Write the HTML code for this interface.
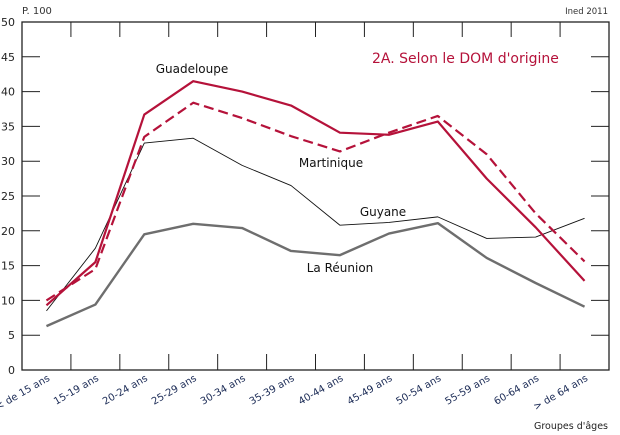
<!DOCTYPE html>
<html><head><meta charset="utf-8"><style>
html,body{margin:0;padding:0;background:#fff;}
svg{display:block;font-family:"DejaVu Sans","Liberation Sans",sans-serif;}
</style></head><body>
<svg id="chart" width="620" height="435" viewBox="0 0 620 435" xmlns="http://www.w3.org/2000/svg">
<text x="22" y="14" font-size="10" fill="#333">P. 100</text>
<text x="608" y="14" font-size="8.5" fill="#333" text-anchor="end">Ined 2011</text>
<text x="372" y="63" font-size="14" fill="#b5123a">2A. Selon le DOM d'origine</text>
<text x="608" y="429" font-size="9.5" fill="#222" text-anchor="end">Groupes d'âges</text>
<g id="axes"></g>
<g id="series"></g>
<text x="192" y="73" font-size="12" fill="#111" text-anchor="middle">Guadeloupe</text>
<text x="331" y="167" font-size="12" fill="#111" text-anchor="middle">Martinique</text>
<text x="383" y="216" font-size="12" fill="#111" text-anchor="middle">Guyane</text>
<text x="340" y="272" font-size="12" fill="#111" text-anchor="middle">La Réunion</text>
</svg>
<script>
const categories = ["< de 15 ans","15-19 ans","20-24 ans","25-29 ans","30-34 ans","35-39 ans","40-44 ans","45-49 ans","50-54 ans","55-59 ans","60-64 ans","> de 64 ans"];
const guadeloupe = [9.3,15.5,36.7,41.5,40,38,34.1,33.8,35.7,27.5,20.5,12.8];
const martinique = [10,14.5,33.5,38.4,36.2,33.6,31.4,34.1,36.5,31,22.5,15.6];
const guyane = [8.5,17.5,32.6,33.3,29.4,26.5,20.8,21.2,22.0,18.9,19.1,21.8];
const reunion = [6.3,9.4,19.5,21,20.4,17.1,16.5,19.6,21.1,16.1,12.5,9.1];
const yTicks = [0,5,10,15,20,25,30,35,40,45,50];

const NS="http://www.w3.org/2000/svg";
const L=22,R=609,T=22,B=370;
const bw=(R-L)/categories.length;
function xPos(i){return L+bw*(i+0.5);}
function yPos(v){return B-(v/50)*(B-T);}
function mk(tag,attrs,parent){const e=document.createElementNS(NS,tag);for(const k in attrs)e.setAttribute(k,attrs[k]);parent.appendChild(e);return e;}
const axes=document.getElementById('axes');
const frame=mk('rect',{x:L,y:T,width:R-L,height:B-T,fill:'none',stroke:'#222','stroke-width':1.3},axes);


yTicks.forEach(v=>{
  const y=yPos(v);
  if(v>0&&v<50){
    const t1=mk('line',{x1:L,x2:L+18,y1:y,y2:y,stroke:'#222','stroke-width':1},axes);
    
    
    const t2=mk('line',{x1:R-18,x2:R,y1:y,y2:y,stroke:'#222','stroke-width':1},axes);
    
    
  }
  const lb=mk('text',{x:15,y:y+4,'font-size':11,fill:'#222','text-anchor':'end'},axes);
  lb.textContent=v;
  
  
});
categories.forEach((c,i)=>{
  if(i>0){
    const x=L+bw*i;
    const a=mk('line',{x1:x,x2:x,y1:T,y2:T+15,stroke:'#222','stroke-width':1},axes);
    
    
    const b=mk('line',{x1:x,x2:x,y1:B-16,y2:B,stroke:'#222','stroke-width':1},axes);
    
    
  }
  const cx=xPos(i)+4, cy=380;
  const t=mk('text',{x:cx,y:cy,'font-size':10,fill:'#1a2a55','text-anchor':'end',transform:`rotate(-30 ${cx} ${cy})`},axes);
  t.textContent=c;
  
  
});
const ser=document.getElementById('series');
function drawLine(vals,style,name){
  const p=mk('polyline',Object.assign({points:vals.map((v,i)=>xPos(i)+','+yPos(v)).join(' '),fill:'none','stroke-linejoin':'round'},style),ser);
  
  
}
drawLine(reunion,{stroke:'#6e6e6e','stroke-width':2.4},'line-la-reunion');
drawLine(guyane,{stroke:'#111','stroke-width':0.9},'line-guyane');
drawLine(martinique,{stroke:'#b5123a','stroke-width':2.2,'stroke-dasharray':'10,5'},'line-martinique');
drawLine(guadeloupe,{stroke:'#b5123a','stroke-width':2.2},'line-guadeloupe');
</script>
</body></html>
